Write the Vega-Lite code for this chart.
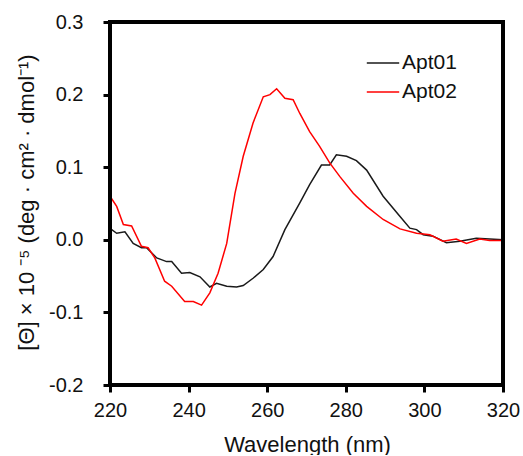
{
  "$schema": "https://vega.github.io/schema/vega-lite/v6.json",
  "width": 393,
  "height": 363,
  "padding": {"left": 14, "top": 12, "right": 0, "bottom": 0},
  "view": {"stroke": "black", "strokeWidth": 3},
  "data": {"values": [
    {"wl": 220, "val": 0.0156, "s": "Apt01"},
    {"wl": 221.7, "val": 0.009, "s": "Apt01"},
    {"wl": 223.8, "val": 0.011, "s": "Apt01"},
    {"wl": 225.9, "val": -0.005, "s": "Apt01"},
    {"wl": 228, "val": -0.011, "s": "Apt01"},
    {"wl": 229.3, "val": -0.011, "s": "Apt01"},
    {"wl": 231.9, "val": -0.025, "s": "Apt01"},
    {"wl": 234.4, "val": -0.030, "s": "Apt01"},
    {"wl": 235.7, "val": -0.030, "s": "Apt01"},
    {"wl": 238.2, "val": -0.046, "s": "Apt01"},
    {"wl": 240.3, "val": -0.045, "s": "Apt01"},
    {"wl": 242.9, "val": -0.051, "s": "Apt01"},
    {"wl": 245.4, "val": -0.065, "s": "Apt01"},
    {"wl": 247.1, "val": -0.060, "s": "Apt01"},
    {"wl": 249.7, "val": -0.064, "s": "Apt01"},
    {"wl": 252.2, "val": -0.065, "s": "Apt01"},
    {"wl": 253.9, "val": -0.063, "s": "Apt01"},
    {"wl": 256.4, "val": -0.053, "s": "Apt01"},
    {"wl": 259, "val": -0.041, "s": "Apt01"},
    {"wl": 261.5, "val": -0.023, "s": "Apt01"},
    {"wl": 264.5, "val": 0.014, "s": "Apt01"},
    {"wl": 268.3, "val": 0.051, "s": "Apt01"},
    {"wl": 270.8, "val": 0.076, "s": "Apt01"},
    {"wl": 273.8, "val": 0.103, "s": "Apt01"},
    {"wl": 275.9, "val": 0.103, "s": "Apt01"},
    {"wl": 277.6, "val": 0.117, "s": "Apt01"},
    {"wl": 280.2, "val": 0.115, "s": "Apt01"},
    {"wl": 282.7, "val": 0.109, "s": "Apt01"},
    {"wl": 285.3, "val": 0.096, "s": "Apt01"},
    {"wl": 289.5, "val": 0.060, "s": "Apt01"},
    {"wl": 293.8, "val": 0.032, "s": "Apt01"},
    {"wl": 296.3, "val": 0.016, "s": "Apt01"},
    {"wl": 298, "val": 0.014, "s": "Apt01"},
    {"wl": 299.7, "val": 0.007, "s": "Apt01"},
    {"wl": 302.2, "val": 0.005, "s": "Apt01"},
    {"wl": 305.6, "val": -0.004, "s": "Apt01"},
    {"wl": 309, "val": -0.002, "s": "Apt01"},
    {"wl": 313.2, "val": 0.002, "s": "Apt01"},
    {"wl": 316.6, "val": 0.001, "s": "Apt01"},
    {"wl": 320, "val": 0.0, "s": "Apt01"},
    {"wl": 220, "val": 0.060, "s": "Apt02"},
    {"wl": 221.7, "val": 0.046, "s": "Apt02"},
    {"wl": 223.4, "val": 0.021, "s": "Apt02"},
    {"wl": 225.5, "val": 0.019, "s": "Apt02"},
    {"wl": 228, "val": -0.009, "s": "Apt02"},
    {"wl": 229.7, "val": -0.011, "s": "Apt02"},
    {"wl": 231.4, "val": -0.025, "s": "Apt02"},
    {"wl": 233.9, "val": -0.057, "s": "Apt02"},
    {"wl": 235.7, "val": -0.064, "s": "Apt02"},
    {"wl": 239, "val": -0.085, "s": "Apt02"},
    {"wl": 241.2, "val": -0.085, "s": "Apt02"},
    {"wl": 243.3, "val": -0.090, "s": "Apt02"},
    {"wl": 245.4, "val": -0.073, "s": "Apt02"},
    {"wl": 247.5, "val": -0.046, "s": "Apt02"},
    {"wl": 249.7, "val": -0.005, "s": "Apt02"},
    {"wl": 251.8, "val": 0.064, "s": "Apt02"},
    {"wl": 253.9, "val": 0.115, "s": "Apt02"},
    {"wl": 256.4, "val": 0.161, "s": "Apt02"},
    {"wl": 259, "val": 0.197, "s": "Apt02"},
    {"wl": 260.7, "val": 0.200, "s": "Apt02"},
    {"wl": 262.4, "val": 0.208, "s": "Apt02"},
    {"wl": 264.5, "val": 0.195, "s": "Apt02"},
    {"wl": 266.6, "val": 0.193, "s": "Apt02"},
    {"wl": 268.3, "val": 0.174, "s": "Apt02"},
    {"wl": 270.8, "val": 0.149, "s": "Apt02"},
    {"wl": 273.3, "val": 0.129, "s": "Apt02"},
    {"wl": 275.9, "val": 0.106, "s": "Apt02"},
    {"wl": 278.5, "val": 0.087, "s": "Apt02"},
    {"wl": 281.9, "val": 0.064, "s": "Apt02"},
    {"wl": 285.3, "val": 0.046, "s": "Apt02"},
    {"wl": 289.5, "val": 0.028, "s": "Apt02"},
    {"wl": 293.8, "val": 0.015, "s": "Apt02"},
    {"wl": 298, "val": 0.009, "s": "Apt02"},
    {"wl": 301.4, "val": 0.007, "s": "Apt02"},
    {"wl": 304.7, "val": -0.002, "s": "Apt02"},
    {"wl": 308.1, "val": 0.001, "s": "Apt02"},
    {"wl": 310.7, "val": -0.005, "s": "Apt02"},
    {"wl": 314.1, "val": 0.001, "s": "Apt02"},
    {"wl": 316.6, "val": -0.001, "s": "Apt02"},
    {"wl": 320, "val": -0.001, "s": "Apt02"}
  ]},
  "layer": [
    {
      "mark": {"type": "line", "strokeWidth": 1.5},
      "encoding": {
        "x": {"field": "wl", "type": "quantitative",
          "scale": {"domain": [220, 320], "nice": false, "zero": false},
          "axis": {"title": "Wavelength (nm)", "values": [220, 240, 260, 280, 300, 320], "format": "d", "grid": false, "domainColor": "black", "domainWidth": 3, "tickColor": "black", "tickWidth": 3, "tickSize": 7, "labelFont": "Liberation Sans", "labelFontSize": 20, "labelColor": "#111111", "labelPadding": 8, "labelFlush": false, "titleFont": "Liberation Sans", "titleFontSize": 22, "titleFontWeight": "normal", "titleColor": "#111111", "titleX": 197, "titleY": 66, "titleBaseline": "alphabetic", "titlePadding": 0}},
        "y": {"field": "val", "type": "quantitative",
          "scale": {"domain": [-0.2, 0.3], "nice": false, "zero": false},
          "axis": {"title": "[Θ] × 10 ⁻⁵ (deg · cm² · dmol⁻¹)", "values": [-0.2, -0.1, 0, 0.1, 0.2, 0.3], "labelExpr": "replace(format(datum.value, '.1f'), '−', '-')", "grid": false, "domainColor": "black", "domainWidth": 3, "tickColor": "black", "tickWidth": 3, "tickSize": 7, "labelFont": "Liberation Sans", "labelFontSize": 20, "labelColor": "#111111", "labelPadding": 20, "labelFlush": false, "titleFont": "Liberation Sans", "titleFontSize": 22, "titleFontWeight": "normal", "titleColor": "#111111", "titleX": -84, "titleY": 180, "titleBaseline": "middle", "titleAngle": -90}},
        "color": {"field": "s", "type": "nominal",
          "scale": {"domain": ["Apt01", "Apt02"], "range": ["#1a1a1a", "#ff0000"]},
          "legend": {"title": null, "orient": "none", "legendX": 256, "legendY": 24, "symbolType": "stroke", "symbolSize": 1050, "symbolStrokeWidth": 1.5, "labelFont": "Liberation Sans", "labelFontSize": 21, "labelColor": "#111111", "labelOffset": 2, "rowPadding": 2, "padding": 0}}
      }
    },
    {"mark": {"type": "rect", "filled": false, "stroke": "black", "strokeWidth": 3},
     "encoding": {"x": {"datum": 220}, "x2": {"datum": 320}, "y": {"datum": -0.2}, "y2": {"datum": 0.3}}}
  ]
}
